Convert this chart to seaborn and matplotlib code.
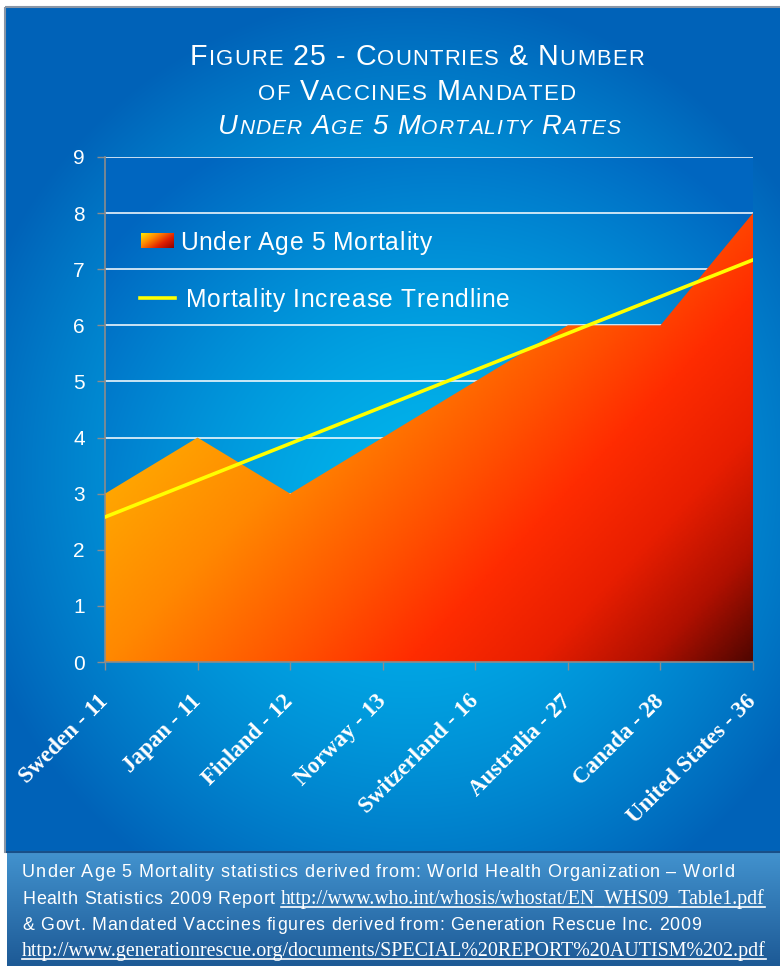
import matplotlib
matplotlib.use("Agg")
import matplotlib.pyplot as plt
import numpy as np
import pandas as pd
import seaborn as sns
from matplotlib import font_manager
from matplotlib.colors import LinearSegmentedColormap, to_rgb
from matplotlib.patches import Rectangle

# data
countries = ["Sweden - 11", "Japan - 11", "Finland - 12", "Norway - 13",
             "Switzerland - 16", "Australia - 27", "Canada - 28", "United States - 36"]
mortality = [3, 4, 3, 4, 5, 6, 6, 8]
y_ticks = list(range(0, 10))

title_lines = ["Figure 25 - Countries & Number",
               "of Vaccines Mandated",
               "Under Age 5 Mortality Rates"]
legend_labels = ["Under Age 5 Mortality", "Mortality Increase Trendline"]
footer_text = [
    "Under Age 5 Mortality statistics derived from: World Health Organization \u2013 World",
    "Health Statistics 2009 Report ",
    "& Govt. Mandated Vaccines figures derived from: Generation Rescue Inc. 2009",
]
footer_urls = ["http://www.who.int/whosis/whostat/EN_WHS09_Table1.pdf",
               "http://www.generationrescue.org/documents/SPECIAL%20REPORT%20AUTISM%202.pdf"]

names = {f.name for f in font_manager.fontManager.ttflist}
NARROW = "Liberation Sans Narrow" if "Liberation Sans Narrow" in names else "Liberation Sans"
SANS = [NARROW, "DejaVu Sans"]
SERIF = ["Liberation Serif", "DejaVu Serif"]

W, H = 780, 966
fig = plt.figure(figsize=(W / 100, H / 100), dpi=100)
fig.patch.set_facecolor("white")
renderer = fig.canvas.get_renderer()

bg = fig.add_axes([0, 0, 1, 1], zorder=0)
ax = fig.add_axes([105 / W, 1 - 662 / H, 648 / W, 505 / H], zorder=1)
over = fig.add_axes([0, 0, 1, 1], zorder=3)
for a in (bg, over):
    a.set_axis_off()
    a.patch.set_alpha(0)
ax.patch.set_alpha(0)


def radial(x0, x1, y0, y1, cx, cy, rx, ry, inner, outer, power=1.5):
    xs = np.arange(x0, x1)
    ys = np.arange(y0, y1)
    X, Y = np.meshgrid(xs, ys)
    d = np.sqrt(((X - cx) / rx) ** 2 + ((Y - cy) / ry) ** 2)
    t = np.clip(d, 0, 1) ** power
    a, b = np.array(to_rgb(inner)), np.array(to_rgb(outer))
    return a * (1 - t[..., None]) + b * t[..., None]


# main panel background
panel = radial(5, 780, 7, 852, 410, 470, 460, 480, "#00b8f0", "#0062b8", 1.6)
bg.imshow(panel, extent=(5, 780, 852, 7), aspect="auto", zorder=0)
# plot area background
inner = radial(105, 753, 157, 662, 440, 520, 430, 430, "#00b8ee", "#0066c0", 1.5)
bg.imshow(inner, extent=(105, 753, 662, 157), aspect="auto", zorder=1)
# footer
fy = np.linspace(0, 1, 114)[:, None, None]
foot = np.array(to_rgb("#4292ce")) * (1 - fy) + np.array(to_rgb("#1d5a96")) * fy
foot = np.repeat(foot, 2, axis=1)
bg.imshow(foot, extent=(7, 780, 966, 852), aspect="auto", zorder=1)
bg.add_patch(Rectangle((5, 7), 780, 845, fill=False, edgecolor="#8a96a6", lw=1.5, zorder=2))
bg.plot([7, 780], [852, 852], color="#184f88", lw=1.5, zorder=3)
bg.set_xlim(0, W)
bg.set_ylim(H, 0)

# area chart with gradient fill
df = pd.DataFrame({"pos": np.arange(len(countries)), "mortality": mortality,
                   "country": countries})
poly = ax.fill_between(df["pos"], df["mortality"], 0, facecolor="none", edgecolor="none")
area_cmap = LinearSegmentedColormap.from_list(
    "area", [(0, "#ffb000"), (0.25, "#ff8800"), (0.45, "#ff5500"), (0.6, "#ff2c00"),
             (0.75, "#e81e00"), (0.88, "#b01000"), (1, "#500600")])
u, v = np.meshgrid(np.linspace(0, 1, 300), np.linspace(0, 1, 300))
tt = np.clip(0.75 * u - 0.55 * v + 0.25, 0, 1)
img = ax.imshow(area_cmap(tt), extent=[0, len(countries) - 1, 0, 9], origin="lower",
                aspect="auto", zorder=2)
img.set_clip_path(poly.get_paths()[0], transform=ax.transData)

# linear trendline
sns.regplot(data=df, x="pos", y="mortality", scatter=False, ci=None, truncate=True,
            color="#ffff00", line_kws={"lw": 2.6, "zorder": 4}, ax=ax)

ax.set_xlim(0, len(countries) - 1)
ax.set_ylim(0, 9)
ax.set_xlabel("")
ax.set_ylabel("")
ax.set_yticks(y_ticks)
ax.set_xticks(df["pos"])
ax.set_xticklabels(countries, rotation=45, ha="right", va="center", rotation_mode="anchor")
for lab in ax.get_xticklabels():
    lab.set_family(SERIF)
    lab.set_fontweight("bold")
    lab.set_fontsize(16.5)
    lab.set_color("white")
for lab in ax.get_yticklabels():
    lab.set_family(SANS)
    lab.set_fontsize(15)
    lab.set_color("white")
ax.tick_params(axis="y", length=6, width=1, color="#8c8c8c", pad=8.5)
ax.tick_params(axis="x", length=6, width=1, color="#8c8c8c", pad=20)
ax.grid(axis="y", color="white", lw=1.3, alpha=0.85)
ax.set_axisbelow(True)
for s in ("top", "right"):
    ax.spines[s].set_visible(False)
for s in ("left", "bottom"):
    ax.spines[s].set_color("#8c8c8c")
    ax.spines[s].set_linewidth(1.2)


def tracked_text(axis, x0, baseline, runs, width=None, track=0.0, min_track=0.8):
    items = []
    for text, kw, split in runs:
        pieces = list(text) if split else [text]
        for p in pieces:
            if p == " ":
                items.append([None, kw["fontsize"] * 100 / 72 * 0.26, kw])
                continue
            t = axis.text(0, baseline, p, ha="left", va="baseline", color="white", **kw)
            items.append([t, t.get_window_extent(renderer).width, kw])
    natural = sum(it[1] for it in items)
    gaps = max(len(items) - 1, 1)
    if width is not None:
        track = (width - natural) / gaps
        if track < min_track:
            # shrink the fonts so the line still fits with a small gap
            f = (width - min_track * gaps) / natural
            for it in items:
                if it[0] is not None:
                    it[0].set_fontsize(it[0].get_fontsize() * f)
                    it[1] = it[0].get_window_extent(renderer).width
                else:
                    it[1] *= f
            track = min_track
    x = x0
    placed = []
    for t, w, _ in items:
        if t is not None:
            t.set_x(x)
            placed.append((t, x, w))
        x += w + track
    return placed


def small_caps(line, big, small, italic=False):
    runs = []
    for ch in line:
        size = small if ch.islower() else big
        kw = {"fontsize": size, "family": SANS}
        if italic:
            kw["style"] = "italic"
        runs.append((ch.upper(), kw, True))
    return runs


# title
title_pos = [(190, 65, 455), (258, 100, 317), (218, 134, 404)]
for i, (line, (x0, base, wd)) in enumerate(zip(title_lines, title_pos)):
    tracked_text(over, x0, base, small_caps(line, 24, 18.5, italic=(i == 2)),
                 width=wd, min_track=1.2)

# legend
lg = np.linspace(0, 1, 40)
gx, gy = np.meshgrid(lg, lg)
leg_cmap = LinearSegmentedColormap.from_list("leg", ["#ffe800", "#ff8800", "#e02000", "#900000"])
over.imshow(leg_cmap(np.clip(0.6 * gx + 0.4 * gy, 0, 1)), extent=(141, 174, 248, 233),
            aspect="auto", zorder=5)
over.plot([140, 175], [298, 298], color="#ffff00", lw=2.6, zorder=5)
leg_kw = {"fontsize": 19, "family": SANS}
tracked_text(over, 180, 250, [(legend_labels[0], leg_kw, True)], width=253)
tracked_text(over, 186, 307, [(legend_labels[1], leg_kw, True)], width=324)


# footer
def url_run(text, target):
    probe = over.text(0, 0, text, fontsize=14, family=SERIF)
    w = probe.get_window_extent(renderer).width
    probe.remove()
    return (text, {"fontsize": 14 * target / w, "family": SERIF}, False)


foot_kw = {"fontsize": 13, "family": SANS}
tracked_text(over, 22, 877, [(footer_text[0], foot_kw, True)], width=712)
p2 = tracked_text(over, 22, 904, [(footer_text[1], foot_kw, True),
                                  url_run(footer_urls[0], 491)], width=744)
tracked_text(over, 22, 930, [(footer_text[2], foot_kw, True)], width=677)
p4 = tracked_text(over, 22, 956, [url_run(footer_urls[1], 748)])
for t, x, w in (p2[-1], p4[-1]):
    over.plot([x, x + w], [t.get_position()[1] + 2.5] * 2, color="white", lw=1.2)

over.set_xlim(0, W)
over.set_ylim(H, 0)

fig.savefig("out.png", dpi=100)
